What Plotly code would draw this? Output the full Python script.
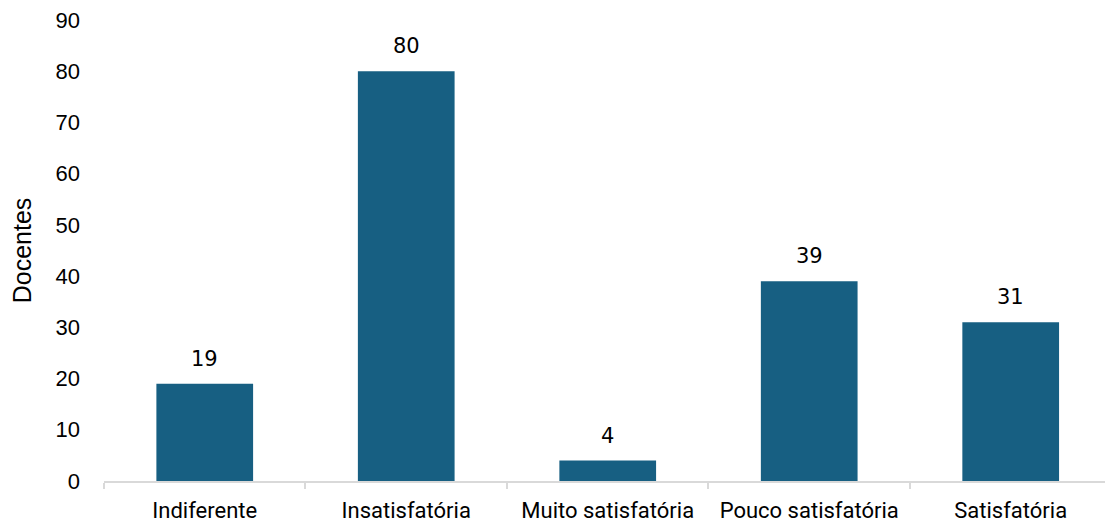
import plotly.graph_objects as go

categories = ["Indiferente", "Insatisfatória", "Muito satisfatória", "Pouco satisfatória", "Satisfatória"]
docentes = [19, 80, 4, 39, 31]
y_ticks = [0, 10, 20, 30, 40, 50, 60, 70, 80, 90]

bar_color = "#175f82"
axis_gray = "#d9d9d9"

fig = go.Figure()
fig.add_trace(go.Bar(
    x=categories,
    y=docentes,
    width=0.48,
    marker=dict(color=bar_color, line=dict(width=0)),
    hoverinfo="x+y",
))

# value labels above each bar
for cat, val in zip(categories, docentes):
    fig.add_annotation(
        x=cat, y=val, text=str(val), showarrow=False,
        yanchor="bottom", yshift=11,
        font=dict(family="DejaVu Sans", size=21, color="#000000"),
    )

fig.update_layout(
    width=1105, height=523,
    margin=dict(l=104, r=0, t=20, b=42),
    plot_bgcolor="white", paper_bgcolor="white",
    showlegend=False,
    bargap=0.52,
)
fig.update_xaxes(
    type="category",
    range=[-0.5, 4.468],
    showline=True, linecolor=axis_gray, linewidth=2,
    ticks="outside", tickson="boundaries", ticklen=6, tickcolor=axis_gray, tickwidth=2,
    ticklabelstandoff=9,
    tickfont=dict(family="Roboto", size=22, color="#000000"),
    showgrid=False,
)
fig.update_yaxes(
    range=[0, 90],
    tickvals=y_ticks,
    showgrid=False, zeroline=False, showline=False,
    ticklabelstandoff=23,
    tickfont=dict(family="Liberation Sans", size=22, color="#000000"),
    title=dict(text="Docentes", font=dict(family="Liberation Sans", size=25, color="#000000"), standoff=16),
)

fig.write_html("out.html")
